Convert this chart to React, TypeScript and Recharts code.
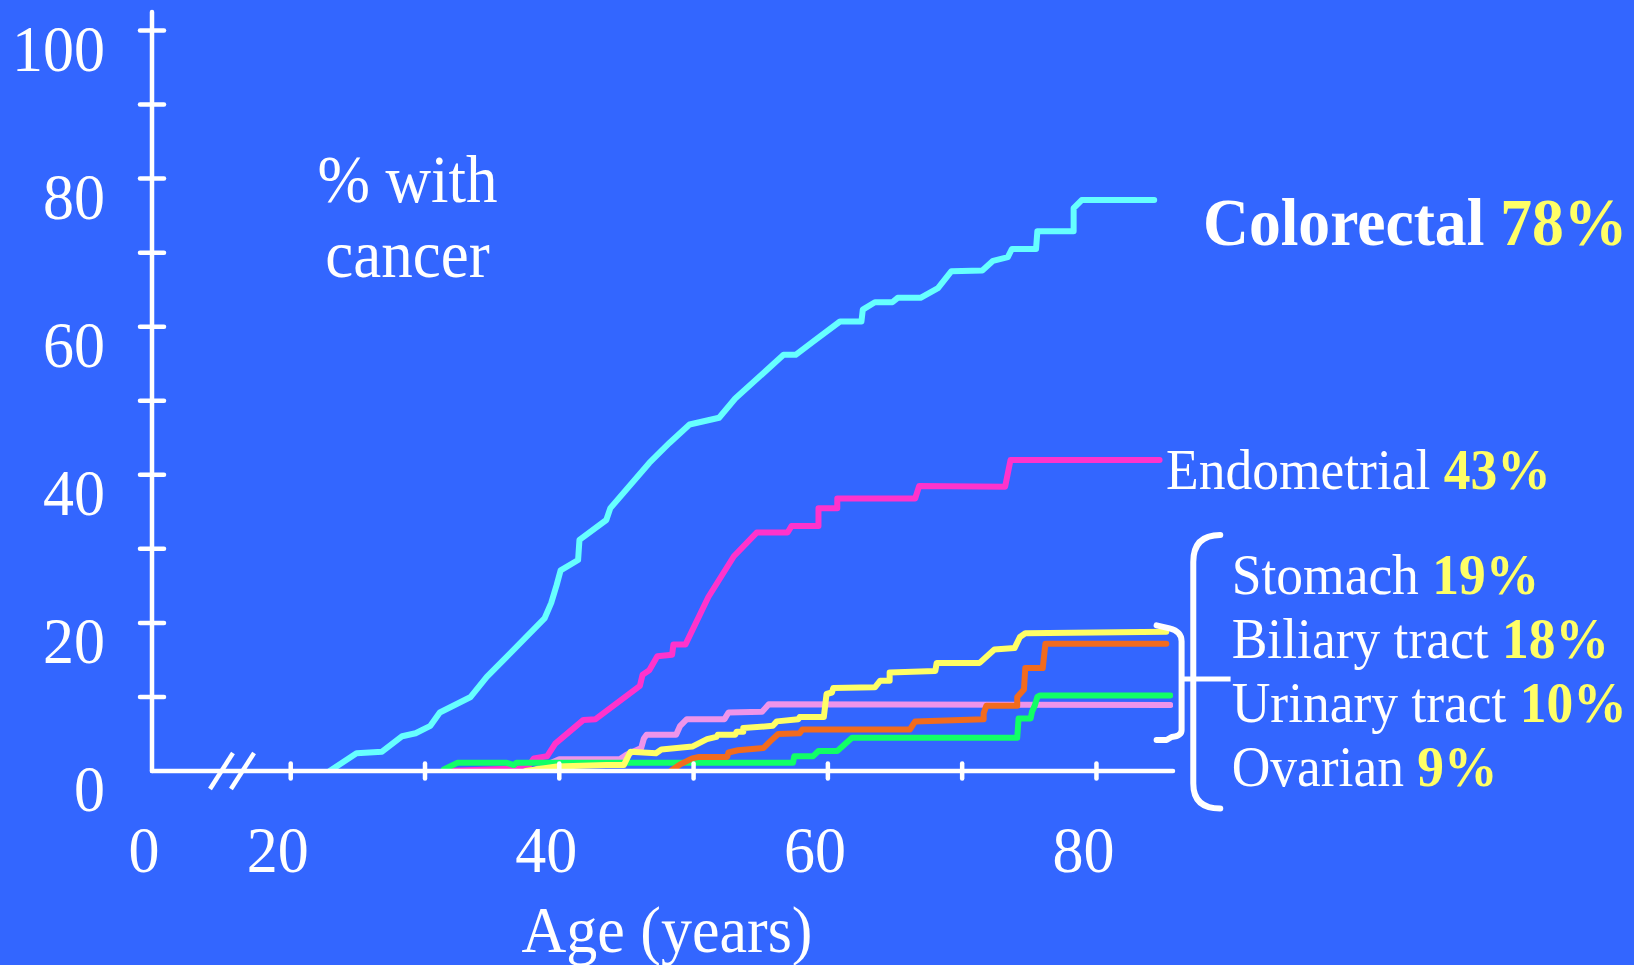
import React from 'react';
import { LineChart, Line, XAxis, YAxis, ReferenceLine } from 'recharts';

type Pt = [number, number];

// cumulative % with cancer by age
const COLORECTAL: Pt[] = [
  [22.9, 0], [24.9, 2.4], [26.8, 2.6], [28.3, 4.7], [29.3, 5.1], [30.4, 6.1], [31.1, 7.9],
  [33.4, 10.0], [34.6, 12.7], [38.9, 20.6], [39.4, 22.7], [39.8, 25.1], [40.1, 27.1],
  [41.4, 28.5], [41.5, 31.2], [43.5, 33.9], [43.8, 35.5], [46.7, 41.6], [48.2, 44.3],
  [49.7, 46.8], [51.9, 47.7], [53.1, 50.3], [56.7, 56.2], [57.6, 56.2], [58.9, 58.0],
  [60.9, 60.7], [62.5, 60.7], [62.6, 62.3], [63.5, 63.3], [64.8, 63.3], [65.2, 63.9],
  [66.9, 63.9], [68.2, 65.2], [69.2, 67.5], [71.5, 67.6], [72.3, 68.9], [73.4, 69.4],
  [73.7, 70.5], [75.5, 70.5], [75.6, 72.9], [78.3, 72.9], [78.3, 76.0], [78.9, 77.1],
  [84.3, 77.1],
];

const ENDOMETRIAL: Pt[] = [
  [31.5, 0], [37.6, 0.4], [38.1, 1.7], [39.1, 2.0], [39.7, 3.7], [41.8, 6.9], [42.7, 7.0],
  [46.0, 11.5], [46.2, 13.0], [46.7, 13.6], [47.3, 15.5], [48.4, 15.7], [48.5, 17.1],
  [49.4, 17.1], [51.1, 23.5], [53.0, 29.0], [54.7, 32.2], [57.0, 32.2], [57.3, 33.1],
  [59.3, 33.1], [59.3, 35.5], [60.7, 35.5], [60.7, 36.8], [66.5, 36.8], [66.8, 38.5],
  [73.2, 38.4], [73.6, 42.0], [84.7, 42.0],
];

const STOMACH: Pt[] = [
  [37.5, 0], [39.8, 0.6], [43.5, 0.8], [44.8, 0.8], [45.3, 2.6], [47.2, 2.4], [47.6, 2.9],
  [49.9, 3.3], [51.0, 4.3], [51.7, 4.6], [51.8, 4.9], [53.1, 4.9], [53.2, 5.3], [53.7, 5.3],
  [53.7, 5.8], [55.9, 6.1], [56.2, 6.7], [57.8, 7.0], [57.9, 7.3], [59.7, 7.3], [59.9, 10.4],
  [60.3, 10.6], [60.4, 11.2], [63.5, 11.3], [63.9, 12.2], [64.6, 12.2], [64.6, 13.3],
  [68.0, 13.5], [68.1, 14.6], [71.3, 14.6], [72.4, 16.4], [73.9, 16.6], [74.3, 18.1],
  [74.7, 18.6], [85.2, 18.8],
];

const BILIARY: Pt[] = [
  [48.3, 0], [49.0, 0.9], [49.9, 1.7], [50.4, 1.9], [52.5, 1.9], [52.6, 2.5], [53.3, 2.8],
  [55.2, 3.1], [55.7, 4.0], [56.3, 5.0], [57.9, 5.1], [58.1, 5.6], [66.1, 5.6], [66.5, 6.7],
  [71.6, 7.0], [71.6, 7.8], [71.8, 8.8], [74.1, 8.8], [74.1, 10.0], [74.4, 10.6],
  [74.6, 11.0], [74.7, 13.9], [76.0, 13.9], [76.2, 17.2], [85.2, 17.2],
];

const URINARY: Pt[] = [
  [31.4, 0.2], [32.4, 1.1], [36.1, 1.1], [36.6, 0.8], [36.8, 1.1], [57.4, 1.1], [57.5, 2.0],
  [58.9, 2.0], [59.3, 2.7], [60.7, 2.7], [61.8, 4.5], [74.1, 4.5], [74.2, 7.1], [75.1, 7.1],
  [75.2, 8.0], [75.4, 8.8], [75.6, 10.0], [75.8, 10.2], [85.5, 10.2],
];

const OVARIAN: Pt[] = [
  [38.0, 0], [40.0, 1.6], [44.5, 1.6], [45.0, 2.2], [46.1, 3.1], [46.3, 4.4], [46.5, 4.9],
  [48.7, 4.9], [49.0, 6.1], [49.5, 7.0], [52.3, 7.0], [52.6, 7.9], [55.1, 8.0], [55.6, 9.0],
  [85.5, 8.9],
];

// axes
const X_ORIGIN = 9.67; // where the broken age axis meets the y axis (labelled 0)
const X_END = 85.7;
const Y_TOP = 102.5;
const X_TICKS = [X_ORIGIN, 20, 30, 40, 50, 60, 70, 80];
const X_LABELLED = [20, 40, 60, 80];
const Y_TICKS = [0, 10, 20, 30, 40, 50, 60, 70, 80, 90, 100];
const Y_LABELLED = [0, 20, 40, 60, 80, 100];

// axis break marks "//" (age, %)
const BREAK_MARKS: [Pt, Pt][] = [
  [[13.99, -2.43], [15.7, 2.43]],
  [[15.55, -2.43], [17.27, 2.43]],
];

// brackets grouping the four minor cancers (age, % top, % bottom)
const SMALL_BRACKET = { age: 86.34, top: 19.67, bottom: 4.19 };
const BIG_BRACKET = { age: 87.21, top: 31.88, bottom: -5.07 };

const BG = '#3366FF';
const WHITE = '#FFFFFF';
const YELLOW = '#FFFF66';
const FONT = '"Liberation Serif", "Times New Roman", serif';

const SERIES = [
  { name: 'Ovarian', data: OVARIAN, color: '#EE94EA' },
  { name: 'Endometrial', data: ENDOMETRIAL, color: '#FF33CC' },
  { name: 'Colorectal', data: COLORECTAL, color: '#66FFFF' },
  { name: 'Urinary tract', data: URINARY, color: '#11FF66' },
  { name: 'Biliary tract', data: BILIARY, color: '#F26B1D' },
  { name: 'Stomach', data: STOMACH, color: '#FFFF66' },
];

const toRows = (pts: Pt[]) => pts.map(([age, pct]) => ({ age, pct }));

const YTick = (props: any) => {
  const { x, y, payload } = props;
  const v = payload.value;
  return (
    <g>
      {v !== 0 && (
        <line x1={x - 12} x2={x + 12} y1={y} y2={y} stroke={WHITE} strokeWidth={4.5} strokeLinecap="round" />
      )}
      {Y_LABELLED.includes(v) && (
        <text
          transform={`translate(${x - 47},${y + 40}) scale(1,1.06)`}
          textAnchor="end"
          fill={WHITE}
          fontSize={62}
          fontFamily={FONT}
        >
          {v}
        </text>
      )}
    </g>
  );
};

const XTick = (props: any) => {
  const { x, y, payload } = props;
  const v = payload.value;
  if (v === X_ORIGIN) {
    return (
      <text transform={`translate(${x - 8},${y + 101}) scale(1,1.06)`} textAnchor="middle" fill={WHITE} fontSize={62} fontFamily={FONT}>
        0
      </text>
    );
  }
  return (
    <g>
      <line x1={x} x2={x} y1={y - 7.5} y2={y + 7.5} stroke={WHITE} strokeWidth={4.5} strokeLinecap="round" />
      {X_LABELLED.includes(v) && (
        <text transform={`translate(${x - 13},${y + 101}) scale(1,1.06)`} textAnchor="middle" fill={WHITE} fontSize={62} fontFamily={FONT}>
          {v}
        </text>
      )}
    </g>
  );
};

const SmallBracketShape = (p: any) => {
  const x = p.x1;
  const top = Math.min(p.y1, p.y2);
  const bot = Math.max(p.y1, p.y2);
  const mid = top + (bot - top) * 0.468;
  const d = `M ${x - 25} ${top} L ${x - 12} ${top + 3} Q ${x} ${top + 6} ${x} ${top + 16} L ${x} ${bot - 10} Q ${x} ${bot - 4} ${x - 10} ${bot - 3} L ${x - 15} ${bot} L ${x - 25} ${bot}`;
  return (
    <g>
      <path d={d} fill="none" stroke={WHITE} strokeWidth={6} strokeLinecap="round" strokeLinejoin="round" />
      <line x1={x} x2={x + 49} y1={mid} y2={mid} stroke={WHITE} strokeWidth={5} />
    </g>
  );
};

const BigBracketShape = (p: any) => {
  const x = p.x1;
  const top = Math.min(p.y1, p.y2);
  const bot = Math.max(p.y1, p.y2);
  const d = `M ${x + 27} ${top} Q ${x} ${top} ${x} ${top + 27} L ${x} ${bot - 25} Q ${x} ${bot} ${x + 27} ${bot}`;
  return <path d={d} fill="none" stroke={WHITE} strokeWidth={6} strokeLinecap="round" strokeLinejoin="round" />;
};

const Txt = ({ x, y, size, anchor = 'start', sy = 1.07, children, weight = 'normal' }: any) => (
  <text
    transform={`translate(${x},${y}) scale(1,${sy})`}
    textAnchor={anchor}
    fill={WHITE}
    fontSize={size}
    fontWeight={weight}
    fontFamily={FONT}
  >
    {children}
  </text>
);

export default function App() {
  return (
    <div style={{ position: 'absolute', left: 0, top: 0, width: 1646, height: 965, background: '#FFFFFF', overflow: 'hidden' }}>
      <div style={{ position: 'absolute', left: 0, top: 0, width: 1634, height: 965, background: BG }} />
      <div style={{ position: 'absolute', left: 0, top: 0 }}>
        <LineChart width={1646} height={965} margin={{ top: 12, right: 473, bottom: 94, left: 52 }}>
          <XAxis
            type="number"
            dataKey="age"
            domain={[X_ORIGIN, X_END]}
            allowDataOverflow
            ticks={X_TICKS}
            interval={0}
            tickSize={0}
            tickMargin={0}
            height={100}
            axisLine={{ stroke: WHITE, strokeWidth: 4.5, strokeLinecap: 'round' }}
            tickLine={false}
            tick={<XTick />}
          />
          <YAxis
            type="number"
            dataKey="pct"
            domain={[0, Y_TOP]}
            allowDataOverflow
            ticks={Y_TICKS}
            interval={0}
            tickSize={0}
            tickMargin={0}
            width={100}
            axisLine={{ stroke: WHITE, strokeWidth: 4.5, strokeLinecap: 'round' }}
            tickLine={false}
            tick={<YTick />}
          />
          {BREAK_MARKS.map((seg, i) => (
            <ReferenceLine
              key={`brk${i}`}
              segment={[{ x: seg[0][0], y: seg[0][1] }, { x: seg[1][0], y: seg[1][1] }]}
              ifOverflow="visible"
              stroke={WHITE}
              strokeWidth={4.5}
            />
          ))}
          {SERIES.map((s) => (
            <Line
              key={s.name}
              name={s.name}
              data={toRows(s.data)}
              dataKey="pct"
              type="linear"
              stroke={s.color}
              strokeWidth={6}
              strokeLinecap="round"
              strokeLinejoin="round"
              dot={false}
              activeDot={false}
              isAnimationActive={false}
            />
          ))}
          <ReferenceLine
            segment={[{ x: SMALL_BRACKET.age, y: SMALL_BRACKET.top }, { x: SMALL_BRACKET.age, y: SMALL_BRACKET.bottom }]}
            ifOverflow="visible"
            shape={SmallBracketShape}
          />
          <ReferenceLine
            segment={[{ x: BIG_BRACKET.age, y: BIG_BRACKET.top }, { x: BIG_BRACKET.age, y: BIG_BRACKET.bottom }]}
            ifOverflow="visible"
            shape={BigBracketShape}
          />
        </LineChart>
      </div>
      <svg width={1646} height={965} style={{ position: 'absolute', left: 0, top: 0, pointerEvents: 'none' }}>
        <Txt x={407.5} y={202} size={63} anchor="middle">% with</Txt>
        <Txt x={407.5} y={277} size={63} anchor="middle">cancer</Txt>
        <Txt x={667} y={952} size={62} anchor="middle">Age (years)</Txt>
        <Txt x={1203} y={244.6} size={63.6} weight="bold" sy={1.06}>
          <tspan>{'Colorectal '}</tspan>
          <tspan fill={YELLOW}>78%</tspan>
        </Txt>
        <Txt x={1166} y={489.3} size={53.5} sy={1.06}>
          <tspan>{'Endometrial '}</tspan>
          <tspan fill={YELLOW} fontWeight="bold">43%</tspan>
        </Txt>
        <Txt x={1231.7} y={594.2} size={53.5} sy={1.06}>
          <tspan>{'Stomach '}</tspan>
          <tspan fill={YELLOW} fontWeight="bold">19%</tspan>
        </Txt>
        <Txt x={1231.7} y={658} size={53.5} sy={1.06}>
          <tspan>{'Biliary tract '}</tspan>
          <tspan fill={YELLOW} fontWeight="bold">18%</tspan>
        </Txt>
        <Txt x={1231.7} y={722.3} size={53.5} sy={1.06}>
          <tspan>{'Urinary tract '}</tspan>
          <tspan fill={YELLOW} fontWeight="bold">10%</tspan>
        </Txt>
        <Txt x={1231.7} y={786} size={53.5} sy={1.06}>
          <tspan>{'Ovarian '}</tspan>
          <tspan fill={YELLOW} fontWeight="bold">9%</tspan>
        </Txt>
      </svg>
    </div>
  );
}
